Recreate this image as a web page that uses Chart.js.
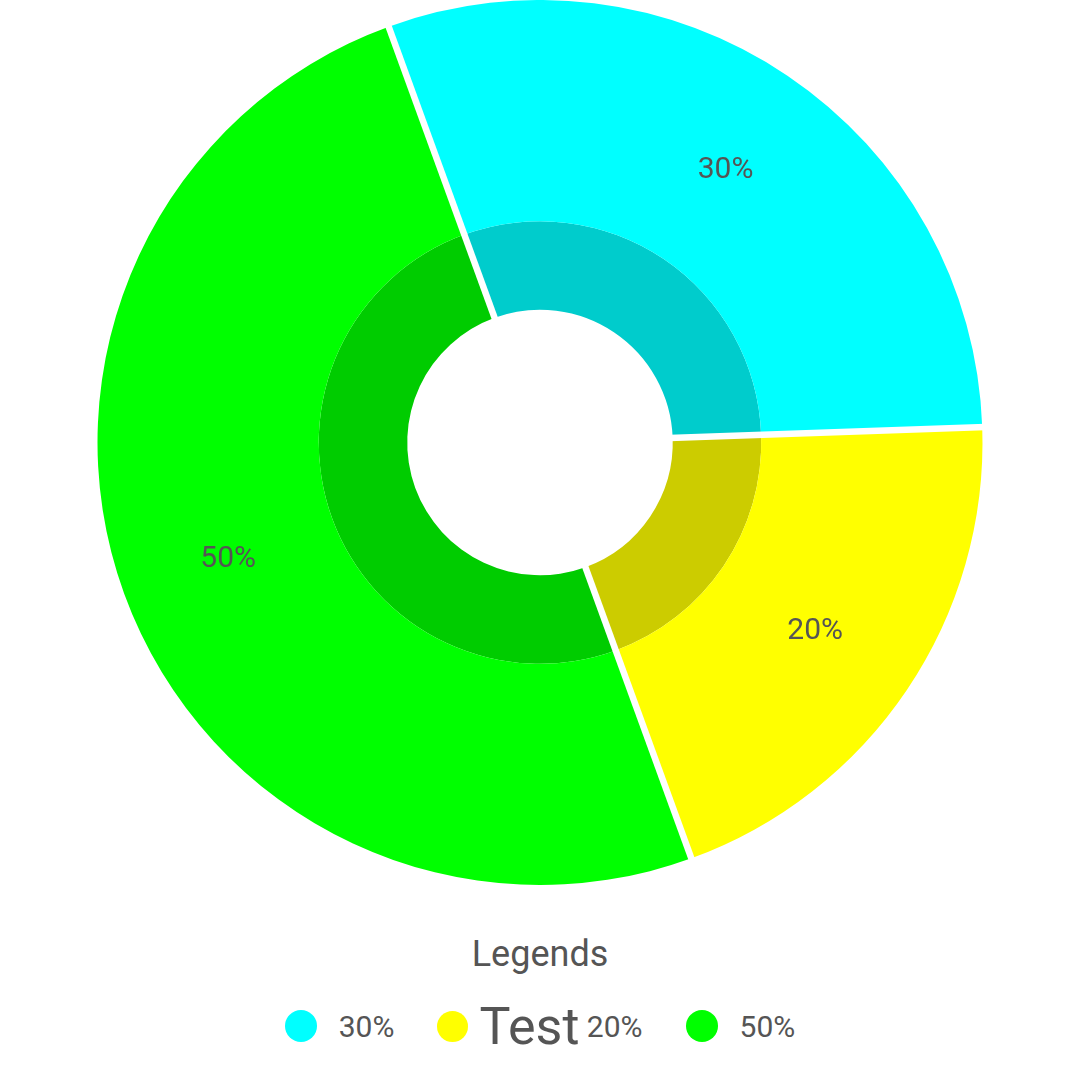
<!DOCTYPE html>
<html>
<head>
<meta charset="utf-8">
<script src="https://cdn.jsdelivr.net/npm/chart.js@4/dist/chart.umd.min.js"></script>
<style>
  html, body { margin: 0; padding: 0; background: #ffffff; width: 1080px; height: 1080px; overflow: hidden; font-family: Roboto, "Noto Sans", sans-serif; color: #555555; }
  #wrap { position: relative; width: 1080px; height: 885px; }
  #legend { height: 195px; }
  #legend .title { font-size: 36px; line-height: normal; text-align: center; padding-top: 48px; }
  #legend .items { display: flex; justify-content: center; align-items: center; margin-top: 20px; height: 62px; }
  #legend .item { display: flex; align-items: center; }
  #legend .item + .item { margin-left: 43px; }
  #legend .dot { width: 32px; height: 32px; border-radius: 50%; margin-right: 22px; }
  #legend .dot.tight { width: 31px; height: 31px; margin-right: 11px; }
  #legend .txt { font-size: 30px; line-height: normal; white-space: pre; }
  #legend .big { font-size: 52px; line-height: normal; }
</style>
</head>
<body>
<div id="wrap"><canvas id="c" width="1080" height="885"></canvas></div>
<div id="legend"></div>
<script>
// ---- data ----
const labels = ['30%', '20%', '50%'];
const values = [30, 20, 50];
const outerColors = ['#00FFFF', '#FFFF00', '#00FF00'];
const innerColors = ['#00CCCC', '#CCCC00', '#00CC00'];
const legendTitle = 'Legends';
const legendPrefixes = ['', 'Test', ''];

const TEXT_COLOR = '#555555';

// white separators along slice boundaries (derived from arc elements)
const separatorPlugin = {
  id: 'separators',
  afterDatasetsDraw(chart) {
    const metaOuter = chart.getDatasetMeta(0);
    const metaInner = chart.getDatasetMeta(chart.data.datasets.length - 1);
    if (!metaOuter.data.length) return;
    const ctx = chart.ctx;
    const rOut = metaOuter.data[0].outerRadius + 3;
    const rIn = Math.max(metaInner.data[0].innerRadius - 3, 0);
    ctx.save();
    ctx.strokeStyle = '#ffffff';
    ctx.lineWidth = 6.5;
    metaOuter.data.forEach(arc => {
      const a = arc.startAngle;
      ctx.beginPath();
      ctx.moveTo(arc.x + Math.cos(a) * rIn, arc.y + Math.sin(a) * rIn);
      ctx.lineTo(arc.x + Math.cos(a) * rOut, arc.y + Math.sin(a) * rOut);
      ctx.stroke();
    });
    ctx.restore();
  }
};

// value labels on outer ring
const sliceLabelPlugin = {
  id: 'sliceLabels',
  afterDatasetsDraw(chart) {
    const meta = chart.getDatasetMeta(0);
    const ctx = chart.ctx;
    const size = 30;
    ctx.save();
    ctx.fillStyle = TEXT_COLOR;
    ctx.font = size + 'px Roboto';
    ctx.textAlign = 'center';
    ctx.textBaseline = 'alphabetic';
    meta.data.forEach((arc, i) => {
      const p = arc.tooltipPosition();
      ctx.fillText(labels[i], p.x, p.y + size * 0.36);
    });
    ctx.restore();
  }
};

new Chart(document.getElementById('c'), {
  type: 'doughnut',
  data: {
    labels: labels,
    datasets: [
      { data: values, backgroundColor: outerColors, borderWidth: 0, weight: 2.5 },
      { data: values, backgroundColor: innerColors, borderWidth: 0, weight: 1 }
    ]
  },
  options: {
    responsive: false,
    maintainAspectRatio: false,
    devicePixelRatio: 1,
    animation: false,
    cutout: '30%',
    rotation: -20,
    layout: { padding: 0 },
    plugins: {
      legend: { display: false },
      tooltip: { enabled: false }
    }
  },
  plugins: [separatorPlugin, sliceLabelPlugin]
});

// HTML legend built from the data arrays
const legend = document.getElementById('legend');
const t = document.createElement('div');
t.className = 'title';
t.textContent = legendTitle;
legend.appendChild(t);
const row = document.createElement('div');
row.className = 'items';
labels.forEach((lab, i) => {
  const item = document.createElement('div');
  item.className = 'item';
  const dot = document.createElement('span');
  dot.className = 'dot' + (legendPrefixes[i] ? ' tight' : '');
  dot.style.background = outerColors[i];
  item.appendChild(dot);
  if (legendPrefixes[i]) {
    const big = document.createElement('span');
    big.className = 'big';
    big.textContent = legendPrefixes[i];
    item.appendChild(big);
  }
  const txt = document.createElement('span');
  txt.className = 'txt';
  txt.textContent = (legendPrefixes[i] ? ' ' : '') + lab;
  item.appendChild(txt);
  row.appendChild(item);
});
legend.appendChild(row);
</script>
</body>
</html>
